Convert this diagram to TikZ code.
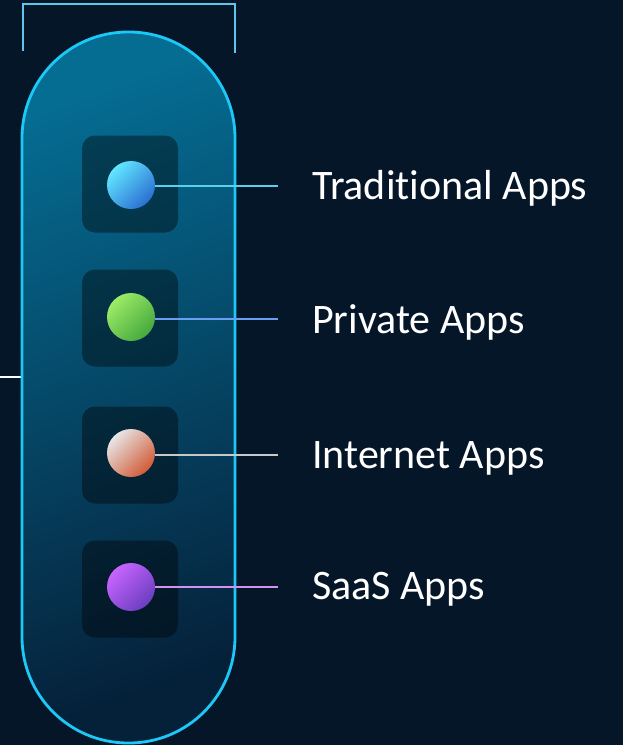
\documentclass[tikz,border=0pt]{standalone}
\usepackage{fontspec}
\setmainfont{Carlito}[Ligatures={NoCommon}]
\definecolor{bgc}{HTML}{061629}
\definecolor{pillTop}{HTML}{056C92}
\definecolor{pillBot}{HTML}{05213A}
\definecolor{cyanedge}{HTML}{1CC8F6}
\definecolor{bracketc}{HTML}{5CC6EE}
\definecolor{lineA}{HTML}{5CCFF0}
\definecolor{lineB}{HTML}{6A9EF0}
\definecolor{lineC}{HTML}{C8C8C8}
\definecolor{lineD}{HTML}{D392F2}
\definecolor{cAa}{HTML}{62E6FF}
\definecolor{cAb}{HTML}{2A6FD2}
\definecolor{cBa}{HTML}{9CEC66}
\definecolor{cBb}{HTML}{46A83E}
\definecolor{cCa}{HTML}{E6E6E6}
\definecolor{cCb}{HTML}{D25A36}
\definecolor{cDa}{HTML}{C864FF}
\definecolor{cDb}{HTML}{6A3EBE}
\begin{document}
\begin{tikzpicture}[x=1pt,y=-1pt,
  iconbox/.style={fill=black,fill opacity=0.4,rounded corners=13pt,minimum width=96pt,minimum height=97pt,inner sep=0pt},
  dot/.style={circle,minimum size=48pt,inner sep=0pt},
  link/.style={line width=2.6pt},
  lbl/.style={anchor=base west,text=white,font=\fontsize{42}{48}\selectfont,inner sep=0pt}]
\useasboundingbox (0,0) rectangle (623,745);
\fill[bgc] (0,0) rectangle (623,745);
% bracket
\draw[bracketc,line width=2.4pt] (23,51) -- (23,4) -- (235,4) -- (235,53);
% left connector
\coordinate (lw) at (0,377);
\coordinate (lwe) at (21,377);
\draw[white,line width=2.6pt] (lw) -- (lwe);
% pill
\node[draw=cyanedge,line width=2.8pt,rounded corners=106pt,minimum width=213pt,minimum height=711pt,inner sep=0pt,
  top color=pillTop,bottom color=pillBot,shading angle=20] (pill) at (128.5,387.5) {};
% icon boxes
\node[iconbox] (b1) at (130,184) {};
\node[iconbox] (b2) at (130,318) {};
\node[iconbox] (b3) at (130,455) {};
\node[iconbox] (b4) at (130,589) {};
% lines
\coordinate (e1) at (278,186);
\coordinate (e2) at (278,319);
\coordinate (e3) at (278,455);
\coordinate (e4) at (278,587);
\node[dot,top color=cAa,bottom color=cAb,shading angle=45] (c1) at (131,185) {};
\node[dot,top color=cBa,bottom color=cBb,shading angle=45] (c2) at (131,317) {};
\node[dot,top color=cCa,bottom color=cCb,shading angle=45] (c3) at (131,453) {};
\node[dot,top color=cDa,bottom color=cDb,shading angle=45] (c4) at (131,587) {};
\draw[link,lineA] (c1.east |- e1) -- (e1);
\draw[link,lineB] (c2.east |- e2) -- (e2);
\draw[link,lineC] (c3.east |- e3) -- (e3);
\draw[link,lineD] (c4.east |- e4) -- (e4);
% labels
\node[lbl] (t1) at (312,199) {Traditional Apps};
\node[lbl] (t2) at (312,333) {Private Apps};
\node[lbl] (t3) at (312,468) {Internet Apps};
\node[lbl] (t4) at (312,599) {SaaS Apps};
\end{tikzpicture}
\end{document}
